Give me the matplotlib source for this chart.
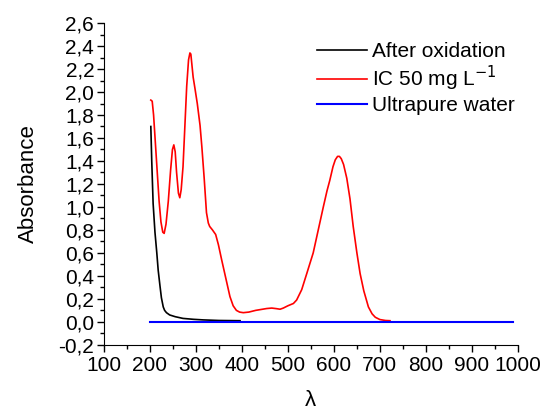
import matplotlib
matplotlib.use("Agg")
from matplotlib import pyplot as plt
from matplotlib.ticker import MultipleLocator, FuncFormatter

plt.rcParams['font.family'] = ['Liberation Sans', 'DejaVu Sans']

# IC 50 mg/L spectrum
ic_wl = [202, 205, 208, 212, 216, 220, 224, 228, 231, 235, 240, 245, 249, 252, 255,
         258, 262, 265, 268, 272, 276, 280, 284, 287, 289, 291, 294, 298, 303, 309,
         313, 318, 323, 327, 330, 336, 343, 349, 356, 365, 374, 381, 388, 395, 403,
         415, 430, 445, 454, 465, 475, 483, 490, 500, 512, 519, 530, 541, 555, 566,
         577, 585, 591, 598, 603, 608, 612, 616, 621, 628, 635, 642, 650, 657, 665,
         675, 683, 690, 700, 712, 722]
ic_abs = [1.93, 1.92, 1.80, 1.55, 1.30, 1.05, 0.87, 0.78, 0.77, 0.85, 1.05, 1.32, 1.50,
          1.54, 1.48, 1.30, 1.12, 1.08, 1.15, 1.35, 1.70, 2.05, 2.28, 2.34, 2.33, 2.25,
          2.13, 2.03, 1.90, 1.71, 1.52, 1.25, 0.95, 0.86, 0.83, 0.80, 0.76, 0.67, 0.54,
          0.38, 0.22, 0.14, 0.10, 0.085, 0.08, 0.085, 0.10, 0.11, 0.116, 0.12, 0.115,
          0.11, 0.12, 0.14, 0.16, 0.19, 0.28, 0.42, 0.60, 0.80, 1.00, 1.14, 1.23, 1.35,
          1.41, 1.44, 1.44, 1.42, 1.37, 1.25, 1.07, 0.83, 0.60, 0.42, 0.27, 0.13, 0.07,
          0.04, 0.02, 0.012, 0.01]

# after oxidation
ox_wl = [202, 204, 207, 211, 215, 218, 222, 225, 229, 232, 236, 243, 255, 272, 295,
         316, 350, 396]
ox_abs = [1.70, 1.40, 1.03, 0.78, 0.60, 0.45, 0.31, 0.21, 0.13, 0.10, 0.08, 0.06,
          0.045, 0.03, 0.022, 0.017, 0.012, 0.01]

# ultrapure water
w_wl = [200, 400, 600, 800, 990]
w_abs = [0.0, 0.0, 0.0, 0.0, 0.0]

fig = plt.figure(figsize=(5.44, 4.12), dpi=100)
ax = fig.add_axes([0.191, 0.163, 0.761, 0.781])

ax.plot(ox_wl, ox_abs, color='black', lw=1.2, label='After oxidation')
ax.plot(ic_wl, ic_abs, color='red', lw=1.2, label='IC 50 mg L$^{-1}$')
ax.plot(w_wl, w_abs, color='blue', lw=1.5, label='Ultrapure water')

ax.set_xlim(100, 1000)
ax.set_ylim(-0.2, 2.6)
ax.xaxis.set_major_locator(MultipleLocator(100))
ax.xaxis.set_minor_locator(MultipleLocator(50))
ax.yaxis.set_major_locator(MultipleLocator(0.2))
ax.yaxis.set_minor_locator(MultipleLocator(0.1))
ax.yaxis.set_major_formatter(FuncFormatter(lambda v, p: ('%.1f' % v).replace('.', ',').replace('-0,0', '0,0')))

for s in ['top', 'right']:
    ax.spines[s].set_visible(False)
ax.tick_params(which='major', length=5, width=1, labelsize=15, direction='out')
ax.tick_params(which='minor', length=3, width=1, direction='out')
ax.tick_params(axis='x', pad=3)
ax.tick_params(axis='y', pad=2)

ax.set_ylabel('Absorbance', fontsize=16, labelpad=14)
ax.set_xlabel('λ', fontsize=16, labelpad=11)

ax.legend(loc='upper left', bbox_to_anchor=(0.47, 1.0), frameon=False, fontsize=15,
          handlelength=2.4, handletextpad=0.25, labelspacing=0.15)

fig.savefig('out.png', dpi=100)
